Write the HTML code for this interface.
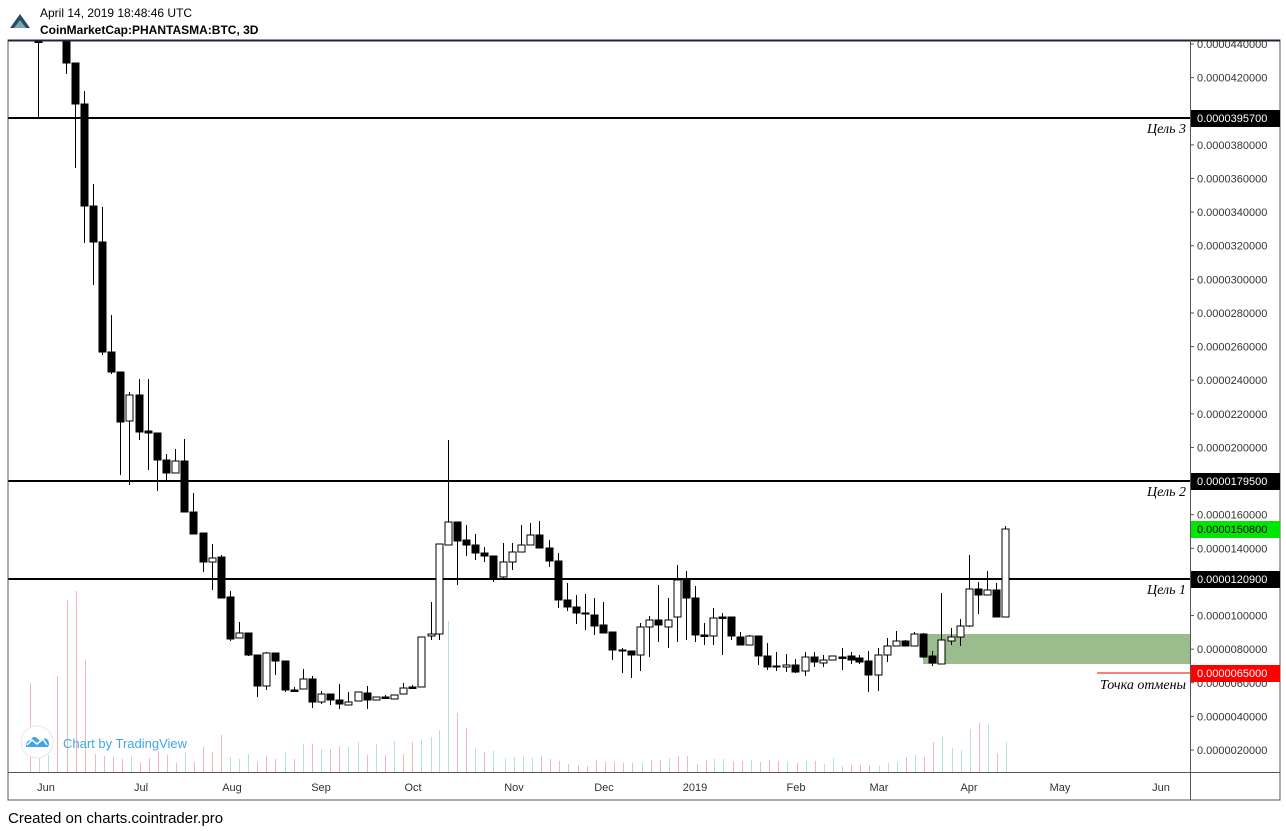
<!DOCTYPE html>
<html><head><meta charset="utf-8"><style>
body{margin:0;background:#fff;width:1286px;height:831px;overflow:hidden;font-family:"Liberation Sans",sans-serif}
</style></head><body>
<svg id="s" width="1286" height="831" xmlns="http://www.w3.org/2000/svg" style="position:absolute;left:0;top:0">
<rect x="0" y="0" width="1286" height="831" fill="#fff"/>
<g id="vol"></g>
<rect x="923" y="634" width="267" height="30" fill="#9bbd8d"/>
<line x1="8" y1="118" x2="1190" y2="118" stroke="#000" stroke-width="2"/>
<line x1="8" y1="481" x2="1190" y2="481" stroke="#000" stroke-width="2"/>
<line x1="8" y1="579" x2="1190" y2="579" stroke="#000" stroke-width="2"/>
<line x1="1097" y1="673" x2="1190" y2="673" stroke="#e00" stroke-width="1"/>
<g id="c"></g>
<g font-family="Liberation Serif,serif" font-style="italic" font-size="14" text-anchor="end" fill="#000">
<text x="1186" y="133">Цель 3</text><text x="1186" y="496">Цель 2</text><text x="1186" y="594">Цель 1</text><text x="1186" y="689">Точка отмены</text>
</g>
<rect x="8" y="40" width="1272" height="760" fill="none" stroke="#555" stroke-width="1"/>
<line x1="8" y1="40.5" x2="1280" y2="40.5" stroke="#223" stroke-width="2"/>
<line x1="1190.5" y1="40" x2="1190.5" y2="800" stroke="#555"/>
<line x1="8" y1="772.5" x2="1280" y2="772.5" stroke="#555"/>
<g id="ax" font-size="11" fill="#333"></g>
<g id="tx" font-size="11" fill="#333" text-anchor="middle"></g>
<g font-size="11">
<rect x="1191" y="110" width="89" height="17" fill="#000"/><text x="1197" y="122" fill="#fff">0.0000395700</text>
<rect x="1191" y="473" width="89" height="17" fill="#000"/><text x="1197" y="485" fill="#fff">0.0000179500</text>
<rect x="1191" y="521" width="89" height="17" fill="#00e600"/><text x="1197" y="533" fill="#000">0.0000150800</text>
<rect x="1191" y="571" width="89" height="17" fill="#000"/><text x="1197" y="583" fill="#fff">0.0000120900</text>
<rect x="1191" y="665" width="89" height="17" fill="#f00"/><text x="1197" y="677" fill="#fff">0.0000065000</text>
</g>
<path d="M10 28 L20 14 L30 28 Z" fill="#2a4a6a"/><path d="M14 28 L20 20 L26 28Z" fill="#7aa"/>
<text x="40" y="17" font-size="12" fill="#000">April 14, 2019 18:48:46 UTC</text>
<text x="40" y="34" font-size="12" font-weight="bold" fill="#000">CoinMarketCap:PHANTASMA:BTC, 3D</text>
<circle cx="37" cy="742" r="16" fill="#fff" stroke="#e6e6e6" stroke-width="1"/>
<path d="M26 747 Q26 740 31 740 Q33 735 37 738 L41 742 Q44 736 48 740 Q50 744 48 747 Z" fill="#3ea6e8"/>
<path d="M27 745 L32 740 L37 744 L43 739 L47 745" fill="none" stroke="#fff" stroke-width="1.5"/>
<text x="63" y="748" font-size="13" fill="#3ea6e8">Chart by TradingView</text>
<text x="8" y="823" font-size="15" fill="#000">Created on charts.cointrader.pro</text>
</svg>
<script>
var NS="http://www.w3.org/2000/svg";
function el(p,t,a,txt){var e=document.createElementNS(NS,t);for(var k in a)e.setAttribute(k,a[k]);if(txt)e.textContent=txt;document.getElementById(p).appendChild(e);}
var C=[[38,40,41,41,119],[66,40,40,63,74],[75,63,63,104,168],[84,91,104,206,243],[93,184,206,242,285],[102,207,242,352,355],[111,315,352,372,374],[120,372,372,422,475],[129,392,421,395,485],[139,379,395,432,440],[148,379,431,433,470],[157,433,433,460,491],[166,454,460,473,480],[175,449,473,461,473],[184,439,461,512,512],[193,493,512,534,534],[203,533,533,562,572],[212,544,562,558,590],[221,555,557,598,598],[230,591,597,639,641],[239,622,638,633,638],[248,633,633,655,656],[257,655,655,686,697],[266,652,686,653,690],[275,653,653,661,675],[285,661,661,690,692],[294,687,690,690,692],[303,669,689,679,689],[312,676,679,702,708],[321,691,702,694,704],[330,694,694,700,705],[339,684,700,704,709],[348,692,705,702,705],[358,692,701,692,701],[367,686,693,700,709],[376,697,700,697,700],[385,695,697,697,699],[394,695,699,695,699],[403,683,694,688,694],[412,685,687,687,689],[421,637,687,637,687],[431,602,636,634,640],[439,544,634,544,640],[448,440,545,522,545],[457,522,522,541,585],[466,525,540,545,556],[475,534,545,553,560],[484,547,553,556,562],[493,556,556,578,582],[503,543,577,562,578],[512,543,562,552,570],[521,525,552,545,552],[530,523,545,535,545],[539,521,535,548,548],[549,540,548,561,567],[558,553,561,600,608],[567,583,600,607,611],[576,595,607,613,624],[585,594,613,614,630],[594,598,615,626,635],[603,602,625,633,633],[612,632,632,650,660],[622,648,650,651,673],[631,651,651,655,678],[640,623,655,627,671],[649,616,627,620,657],[658,585,620,625,642],[668,598,627,620,648],[677,565,617,580,642],[686,571,580,598,640],[695,586,598,635,642],[704,623,635,635,645],[713,608,636,618,645],[722,613,617,617,655],[731,617,617,636,640],[740,632,637,645,645],[749,635,645,636,645],[758,636,636,656,665],[767,643,656,667,670],[776,652,666,667,671],[786,654,667,665,672],[795,659,665,672,673],[805,652,671,657,676],[814,652,657,662,667],[823,655,663,660,667],[832,656,660,656,660],[842,648,657,657,670],[851,652,656,660,664],[859,655,658,662,664],[868,651,661,675,692],[878,648,675,655,691],[887,638,655,646,662],[896,631,646,641,646],[905,640,641,646,646],[914,632,646,634,646],[923,633,634,657,658],[932,651,656,663,666],[941,593,664,640,664],[951,628,641,637,645],[960,619,637,626,646],[969,555,626,589,627],[978,582,589,595,614],[987,571,595,590,595],[996,583,590,617,617],[1005,526,617,529,617]];
var V={30:[683,0],39:[740,1],48:[755,1],57:[676,0],67:[600,0],76:[591,0],85:[660,0],95:[754,0],104:[756,0],113:[757,0],122:[759,0],131:[756,1],140:[762,0],149:[758,0],158:[751,0],167:[755,0],176:[763,0],185:[752,1],194:[762,0],203:[747,0],212:[752,0],221:[735,0],230:[757,1],239:[759,1],248:[754,1],257:[762,0],266:[756,0],275:[759,0],285:[752,1],294:[759,0],303:[744,1],312:[744,0],321:[749,1],330:[749,0],339:[746,0],348:[747,1],358:[742,1],367:[755,0],376:[744,1],385:[755,0],394:[741,1],403:[754,0],412:[742,0],421:[740,1],431:[737,1],439:[730,1],448:[621,1],457:[713,0],466:[728,0]};
var L=[[505,758,1],[514,757,1],[523,756,1],[532,758,1],[541,756,0],[550,759,0],[559,761,0],[568,764,0],[578,765,0],[587,766,0],[596,760,0],[605,762,0],[614,762,0],[623,763,0],[632,763,0],[642,763,1],[651,760,0],[660,760,0],[669,758,1],[678,756,0],[687,756,0],[697,764,0],[706,760,0],[714,759,1],[723,759,1],[733,761,0],[742,761,0],[751,760,1],[760,762,0],[769,760,0],[778,761,0],[787,762,1],[797,763,0],[806,761,1],[815,761,0],[824,764,1],[833,758,1],[842,766,1],[851,765,0],[860,765,0],[869,765,0],[879,766,1],[888,763,1],[897,762,1],[906,757,0],[915,755,1],[924,757,0],[933,742,0],[942,737,1],[952,748,1],[961,750,1],[970,729,1],[979,723,0],[988,724,1],[997,753,0],[1006,742,1]];
C.forEach(function(c){var x=c[0],h=c[1],o=c[2],cl=c[3],l=c[4];var up=cl<o;var t=Math.min(o,cl),b=Math.max(o,cl);if(b-t<1)b=t+1.5;
el("c","line",{x1:x+.5,y1:h,x2:x+.5,y2:l,stroke:"#000","stroke-width":1});
el("c","rect",{x:x-3,y:t,width:7,height:b-t,fill:up?"#fff":"#000",stroke:"#000","stroke-width":1});});
function vb(x,y,g){el("vol","line",{x1:x+.5,y1:y,x2:x+.5,y2:772,stroke:g?"#b3e3d3":"#f8b4b8","stroke-width":1});}
for(var k in V)vb(+k,V[k][0],V[k][1]);
for(var k2=475;k2<500;k2+=9)vb(k2,748+(k2%5),k2%2);
L.forEach(function(a){vb(a[0],a[1],a[2]);});
for(var i=0;i<=21;i++){var p=44-2*i;var y=44+i*33.62;if(p==40||p==18||p==12)continue;
var s="0.0000"+(p<10?"0":"")+p+"0000";el("ax","text",{x:1197,y:y+4},s);el("ax","line",{x1:1190,y1:y,x2:1194,y2:y,stroke:"#555"});}
[["Jun",46],["Jul",141],["Aug",232],["Sep",321],["Oct",413],["Nov",514],["Dec",604],["2019",695],["Feb",796],["Mar",879],["Apr",969],["May",1060],["Jun",1161]].forEach(function(t){el("tx","text",{x:t[1],y:791},t[0]);});
</script>
</body></html>
